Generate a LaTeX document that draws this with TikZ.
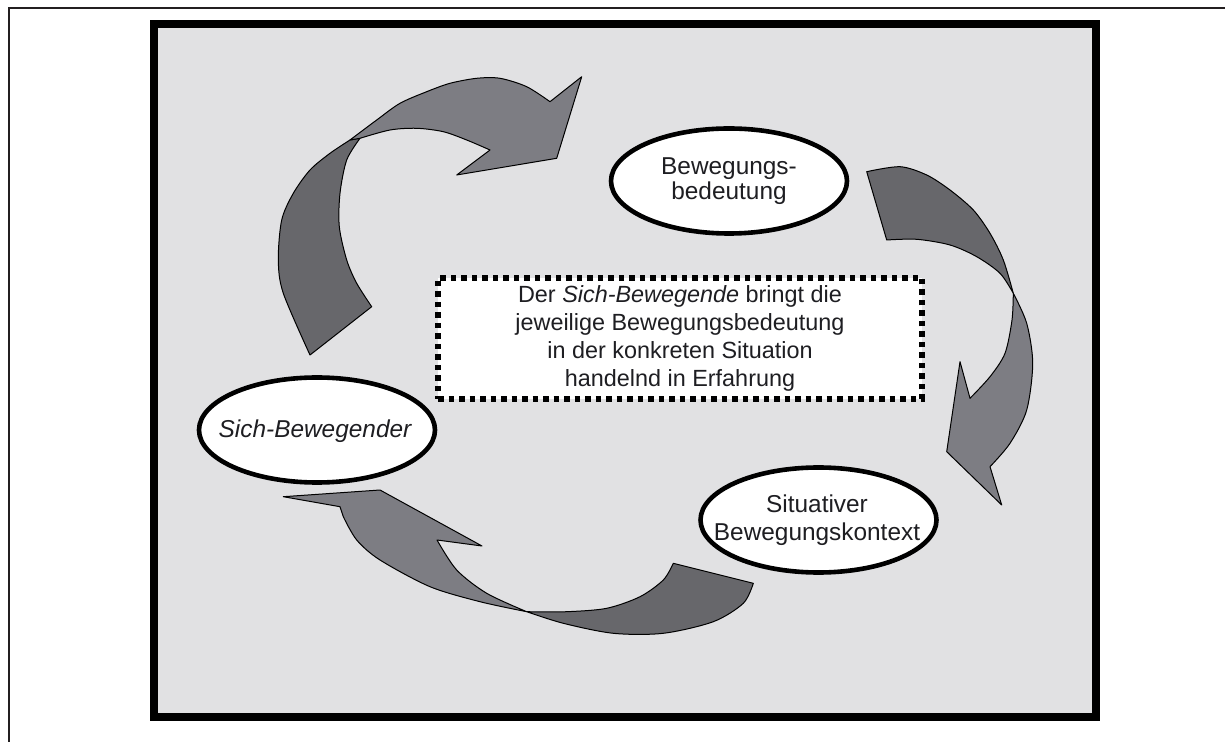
\documentclass[tikz,border=0pt]{standalone}
\usepackage{fontspec}
\setmainfont{Liberation Sans}
\usetikzlibrary{shapes.geometric}
\definecolor{bg}{HTML}{E1E1E3}
\definecolor{arrdk}{HTML}{67676B}
\definecolor{arrlt}{HTML}{7D7D83}
\definecolor{ink}{HTML}{1E1E22}
\definecolor{rimc}{HTML}{231F20}
\begin{document}
\begin{tikzpicture}[x=0.5pt,y=-0.5pt,
  ellip/.style={ellipse, draw=black, line width=2.3pt, fill=white, minimum width=118pt, minimum height=52.5pt, inner sep=0pt},
  elltext/.style={inner sep=0pt, align=center, text=ink},
  dotbox/.style={rectangle, draw=black, line width=2.75pt, dash pattern=on 2.75pt off 2.5pt, fill=white, minimum width=242pt, minimum height=60.5pt, inner sep=0pt, align=center, text=ink},
  arrdark/.style={fill=arrdk, draw=black, line width=0.5pt, line join=round},
  arrlight/.style={fill=arrlt, draw=black, line width=0.5pt, line join=round}]
\useasboundingbox (0,0) rectangle (1225,742);
% outer thin rim (only top and left visible)
\draw[rimc, line width=1.1pt] (9,742) -- (9,7.8) -- (1225,7.8);
% thick frame
\draw[line width=4.25pt, fill=bg] (154,24) rectangle (1096,717);

% ---- arrow 1 (left, up to top) ----
\filldraw[arrdark] plot[smooth] coordinates {(310,355) (283.3,293.3) (278.3,260) (281.7,220) (293.3,193.3) (310,170) (330,153.3) (350,140)}
  -- (360,138.3)
  -- plot[smooth] coordinates {(360,138.3) (346.7,160) (340,193.3) (339.3,226.7) (346.7,260) (356.7,283.3) (371.7,306.7)}
  -- cycle;
\filldraw[arrlight] plot[smooth] coordinates {(350,140) (376.7,120) (400,103.3) (426.7,91.7) (450,83.3) (476.7,78.3) (500,78.3) (526.7,86.7) (550,101.7)}
  -- (581.7,76.7) -- (556.7,158.3) -- (456.7,175) -- (490,150)
  -- plot[smooth] coordinates {(490,150) (466.7,140) (443.3,131.7) (416.7,128.3) (390,130) (360,138.3)}
  -- cycle;

% ---- arrow 2 (right, down) ----
\filldraw[arrdark] plot[smooth] coordinates {(866.7,171.7) (900,166.7) (926.7,175) (950,190) (973.3,210) (990,233.3) (1003.3,260) (1013.3,293.3)}
  -- plot[smooth] coordinates {(1013.3,293.3) (1000,273.3) (976.7,256.7) (950,245) (916.7,239.3) (886.7,240)}
  -- cycle;
\filldraw[arrlight] plot[smooth] coordinates {(1013.3,293.3) (1026.7,323.3) (1032.7,363.3) (1026.7,410) (1010,443.3) (990,466.7)}
  -- (1001.7,505) -- (946.7,451.7) -- (960,361.7) -- (970,398.3)
  -- plot[smooth] coordinates {(970,398.3) (990,376.7) (1005,353.3) (1012,320) (1013.3,293.3)}
  -- cycle;

% ---- arrow 3 (bottom, to the left) ----
\filldraw[arrdark] plot[smooth] coordinates {(753.3,583.3) (743.3,603.3) (713.3,621.7) (663.3,633.3) (613.3,633.3) (563.3,623.3) (526.7,611.7)}
  -- plot[smooth] coordinates {(526.7,611.7) (566.7,611.7) (606.7,608.3) (640,596.7) (663.3,580) (673.3,563.3)}
  -- cycle;
\filldraw[arrlight] plot[smooth] coordinates {(526.7,611.7) (480,601.7) (430,586.7) (380,560) (356.7,540) (343.3,516.7)}
  -- (340,506.7) -- (283.3,496.7) -- (380,490) -- (482,546) -- (437,540)
  -- plot[smooth] coordinates {(437,540) (456.7,570) (486.7,593.3) (526.7,611.7)}
  -- cycle;

% ---- ellipses ----
\node[ellip] (bb) at (729,181) {};
\node[elltext, font=\fontsize{12.2}{12.5}\selectfont] (bbt) at (bb.center) {Bewegungs-\\bedeutung};
\node[ellip] (sbk) at (818.5,520) {};
\node[elltext, font=\fontsize{12.2}{14}\selectfont] (sbkt) at (817,520) {Situativer\\Bewegungskontext};
\node[ellip] (sb) at (317,430) {};
\node[elltext, font=\fontsize{12.2}{14}\selectfont\itshape] (sbt) at (315,431) {Sich-Bewegender};

% ---- central dotted box ----
\node[dotbox, font=\fontsize{11.7}{14}\selectfont] (box) at (680,338.5)
  {Der \textit{Sich-Bewegende} bringt die\\jeweilige Bewegungsbedeutung\\in der konkreten Situation\\handelnd in Erfahrung};
\end{tikzpicture}
\end{document}
